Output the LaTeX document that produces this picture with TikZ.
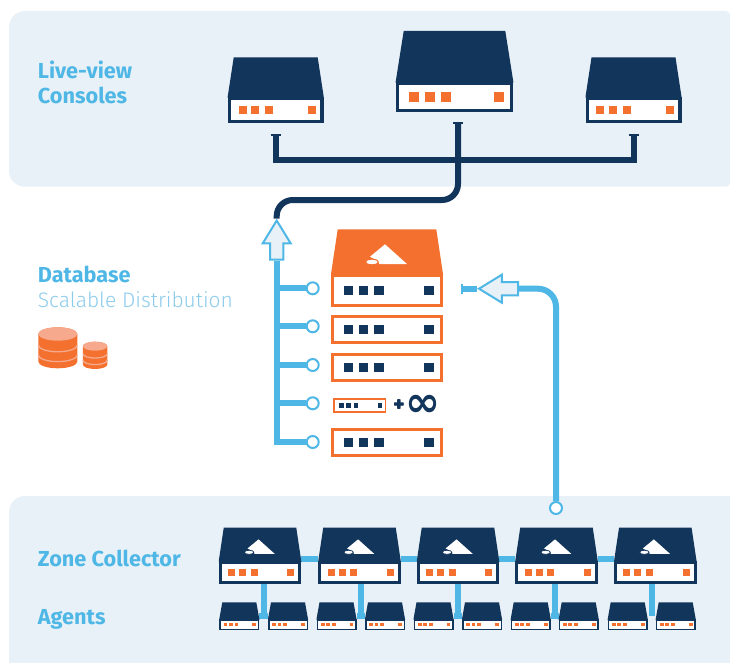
\documentclass[tikz,border=0pt]{standalone}
\usepackage{xcolor}
\usepackage{fontspec}
\setmainfont{Fira Sans}
\newfontfamily\thinfont{Fira Sans Light}
\newfontfamily\symbfont{DejaVu Sans Bold}
\usetikzlibrary{shapes,shapes.arrows,calc,positioning,backgrounds,arrows.meta}
\definecolor{navy}{HTML}{12355B}
\definecolor{flame}{HTML}{F4702E}
\definecolor{flamepale}{HTML}{F6A98C}
\definecolor{sky}{HTML}{4FB7E6}
\definecolor{skypale}{HTML}{8CCBEA}
\definecolor{panelbg}{HTML}{E8F1F7}
\tikzset{
tbar/.tip={Bar[width=10pt,line width=1.7pt,length=0pt]},
navyunit/.style={rectangle,draw=navy,fill=white,inner sep=0pt},
flameunit/.style={rectangle,draw=flame,fill=white,inner sep=0pt},
led/.style={rectangle,inner sep=0pt,fill=flame},
dbled/.style={rectangle,inner sep=0pt,fill=navy},
bus/.style={draw=sky,line width=6pt},
navybus/.style={draw=navy,line width=6pt},
dot/.style={circle,draw=sky,fill=white,line width=2pt,minimum size=12pt,inner sep=0pt},
bigarrow/.style={single arrow,draw=sky,fill=panelbg,line width=2pt,
inner xsep=0pt,inner ysep=5.7pt,minimum height=39pt,
single arrow head extend=7.3pt,single arrow tip angle=63},
title/.style={anchor=base west,inner sep=0pt,text=sky,font=\fontsize{21.7}{26}\selectfont\bfseries}
}
% front leds of a unit: name, led style
\newcommand{\unitleds}[2]{
\foreach \f/\k in {.156/a,.288/b,.43/c,.875/d}
	\node[#2] (#1-\k) at ($(#1.west)!\f!(#1.east)$) {};
}
% lid of a unit: name, inset, height, colour
\newcommand{\unitlid}[4]{
\fill[#4] ($(#1.north west)+(0,1)$) -- ++(0,-1) -- ++(#2,-#3) -- ($(#1.north east)+(-#2,-#3)$) -- (#1.north east) -- ++(0,1) -- cycle;
}
% mark on a lid: name, colour, scale
\newcommand{\lidmark}[3]{
\begin{scope}[shift={(#1.north)},scale=#3]
\fill[white] (-2,-29.7) -- (20,-10) -- (-7.5,-10) -- (-11,-14) -- (-17,-17.3) -- cycle;
\filldraw[fill=white,draw=#2,line width=#3*1pt] (-15,-12) ellipse (6.5 and 2.8);
\end{scope}
}
% stack of disks: centre x, top y, rx, ry, height
\newcommand{\diskstack}[5]{
\fill[flame] (#1-#3,#2+#4) arc (180:360:#3 and #4) -- (#1+#3,#2+#5-#4) arc (0:180:#3 and #4) -- cycle;
\draw[flamepale,line width=1.3pt] (#1-#3,#2+#4+#5*0.27) arc (180:0:#3 and #4);
\draw[flamepale,line width=1.3pt] (#1-#3,#2+#4+#5*0.51) arc (180:0:#3 and #4);
\fill[flamepale] (#1,#2+#4) ellipse (#3 and #4);
}

\begin{document}
\begin{tikzpicture}[x=1pt,y=-1pt]
\useasboundingbox (0,0) rectangle (730,663);

\begin{scope}[on background layer]
\fill[panelbg] (100,11) [rounded corners=16pt] -- (9,11) -- (9,186.7) -- (100,186.7) [rounded corners=4pt] -- (730,186.7) -- (730,11) -- cycle;
\fill[panelbg] (100,496) [rounded corners=16pt] -- (9,496) -- (9,690) -- (100,690) [sharp corners] -- (730,690) -- (730,496) -- cycle;
\end{scope}

% consoles
\node[navyunit,line width=3.3pt,minimum width=92.7pt,minimum height=23.3pt] (con1) at (275.7,110) {};
\node[navyunit,line width=3.6pt,minimum width=114pt,minimum height=27pt] (con2) at (454.5,97) {};
\node[navyunit,line width=3.3pt,minimum width=92.7pt,minimum height=23.3pt] (con3) at (633.5,110) {};
\unitlid{con1}{6}{39.3}{navy}
\unitlid{con2}{8}{50.7}{navy}
\unitlid{con3}{6}{39.3}{navy}
\unitleds{con1}{led,minimum size=8pt}
\unitleds{con2}{led,minimum size=10pt}
\unitleds{con3}{led,minimum size=8pt}

% database
\node[flameunit,line width=3.3pt,minimum width=108.7pt,minimum height=29.7pt] (db1) at (387,290.5) {};
\node[flameunit,line width=3.3pt,minimum width=108.7pt,minimum height=26.2pt] (db2) at (387,329.7) {};
\node[flameunit,line width=3.3pt,minimum width=108.7pt,minimum height=26.2pt] (db3) at (387,367.3) {};
\node[flameunit,line width=1.8pt,minimum width=51.2pt,minimum height=12.6pt] (db4) at (359.8,405.5) {};
\node[flameunit,line width=3.3pt,minimum width=108.7pt,minimum height=26.2pt] (db5) at (387,442.7) {};
\unitlid{db1}{6.7}{44.7}{flame}
\lidmark{db1}{flame}{1}
\foreach \n in {db1,db2,db3,db5}
	\unitleds{\n}{dbled,minimum size=9.5pt}
\unitleds{db4}{dbled,minimum size=4.3pt}
\node[inner sep=0pt,text=navy,font=\fontsize{21}{21}\selectfont\bfseries] (plus) at (399,405.7) {+};
\node[inner sep=0pt,text=navy,font=\symbfont\fontsize{42}{42}\selectfont] (inf) at (423,405.7) {∞};

% zone collectors and agents
\foreach \i/\x/\a/\b in {1/260/239.3/288,2/359.5/336.5/385,3/458/433.5/482,4/556.5/530.7/578.7,5/655.3/627.7/675.7}{
	\node[navyunit,line width=3pt,minimum width=79.5pt,minimum height=20.3pt] (col\i) at (\x,572.7) {};
	\unitlid{col\i}{5}{33.5}{navy}
	\lidmark{col\i}{navy}{.73}
	\unitleds{col\i}{led,minimum size=7pt}
	\node[navyunit,line width=1.5pt,minimum width=38.5pt,minimum height=9.5pt] (aga\i) at (\a,624.5) {};
	\node[navyunit,line width=1.5pt,minimum width=38.5pt,minimum height=9.5pt] (agb\i) at (\b,624.5) {};
	\unitlid{aga\i}{3}{16.7}{navy}
	\unitlid{agb\i}{3}{16.7}{navy}
	\unitleds{aga\i}{led,minimum size=3.8pt}
	\unitleds{agb\i}{led,minimum size=3.8pt}
	\coordinate (hub\i) at ($(aga\i.north east)!.5!(agb\i.north west)+(0,-3)$);
}

% arrows and dots
\node[bigarrow,rotate=90] (upArrow) at (276.7,245.5) {};
\node[bigarrow,rotate=180] (inArrow) at (504,288.7) {};
\node[dot] (dot1) at (312.7,288.3) {};
\node[dot] (dot2) at (312.7,326.3) {};
\node[dot] (dot3) at (312.7,365) {};
\node[dot] (dot4) at (312.7,403.3) {};
\node[dot] (dot5) at (312.7,442) {};
\node[dot] (upDot) at (556,508) {};
\coordinate (stem) at ([xshift=3.5pt]con2.south);
\coordinate (busC) at (stem |- 0,160);
\coordinate (turn) at (upArrow.tip |- 0,200);
\coordinate (dbPort) at (461,288.7);

\begin{scope}[on background layer]
\draw[navybus,tbar-tbar,shorten <=11pt,shorten >=11pt] (con1.south) |- (busC) -| (con3.south);
\draw[navybus,tbar-,shorten <=10pt,rounded corners=16pt] (stem) |- (turn) -- (upArrow.tip);
\draw[bus] (upArrow.tail) |- (dot5.west);
\foreach \n in {1,2,3,4}
	\draw[bus] (dot\n.west) -- (dot\n.west -| upArrow.tail);
\draw[bus,tbar-] (dbPort) -- (inArrow.tip);
\draw[bus,rounded corners=18pt] (inArrow.tail) -| (upDot.north);
\foreach \i/\j in {1/2,2/3,3/4,4/5}
	\draw[bus] ([yshift=2.3pt]col\i.north east) -- ([yshift=2.3pt]col\j.north west);
\foreach \i in {1,...,5}
	\draw[bus] (col\i.south -| hub\i) -- (hub\i);
\foreach \i in {1,...,4}
	\draw[bus] ([yshift=3pt]aga\i.north east) -- ([yshift=3pt]agb\i.north west);
\end{scope}

% labels
\node[title] (liveview) at (37.7,79) {Live-view};
\node[title] (consoles) at (37.7,103.4) {Consoles};
\node[title] (database) at (37.7,282.4) {Database};
\node[title,text=skypale,font=\fontsize{21}{26}\selectfont\thinfont] (scalable) at (37.7,307.5) {Scalable Distribution};
\node[title] (zone) at (37.7,566) {Zone Collector};
\node[title] (agents) at (37.7,624.7) {Agents};

\diskstack{57.8}{327.3}{19.5}{6.7}{41}
\diskstack{95.1}{341.7}{12.2}{4.5}{27.3}
\end{tikzpicture}
\end{document}
